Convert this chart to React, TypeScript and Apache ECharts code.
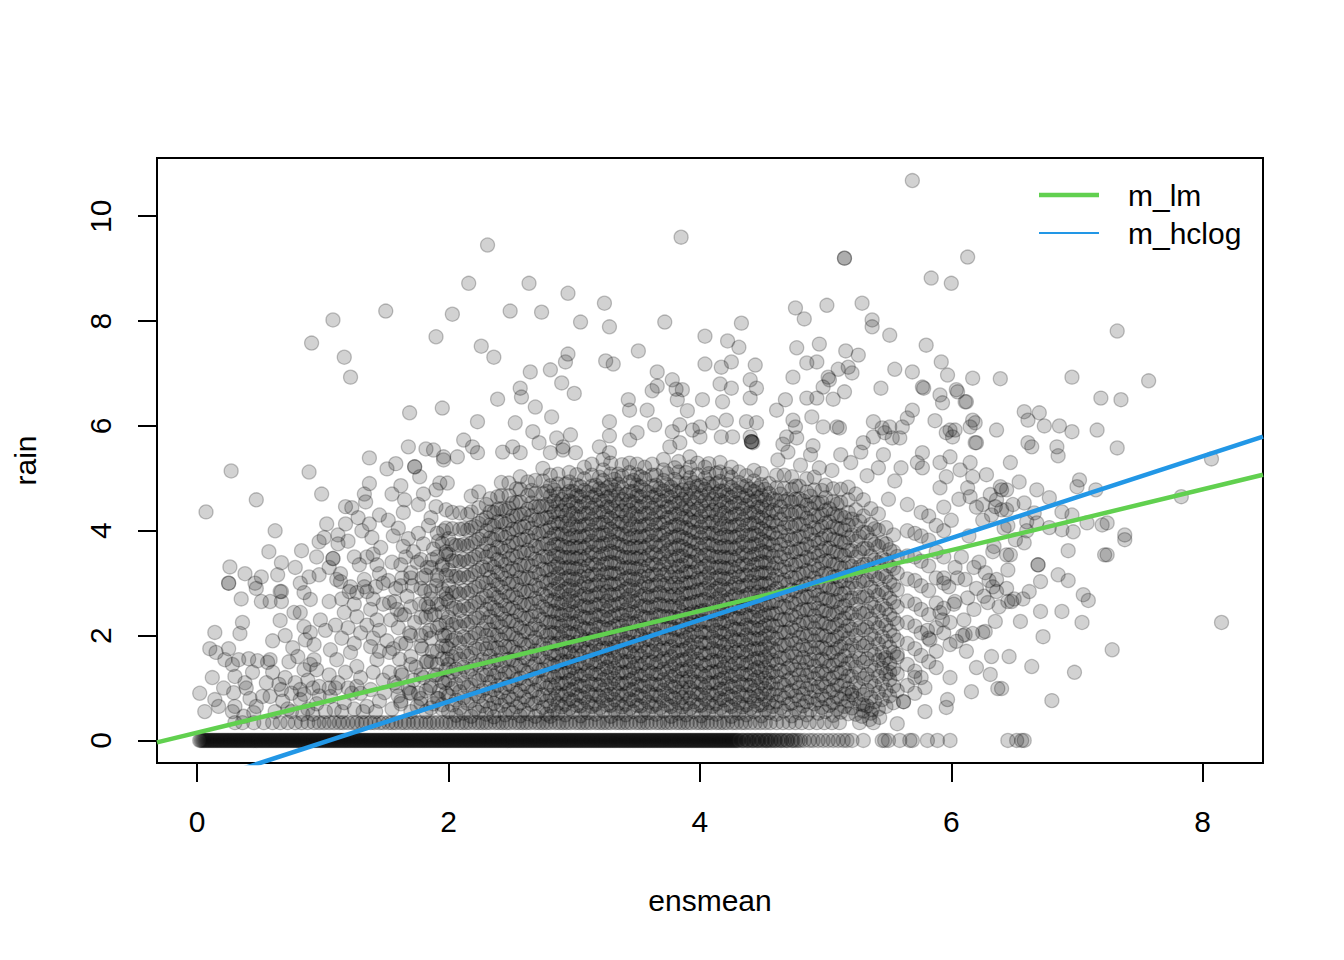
import React, { useEffect, useRef } from "react";
import * as echarts from "echarts";

// axis ranges (R default: data range widened by 4%)
const xRange = [-0.32, 8.48];
const yRange = [-0.43, 11.11];
const xTicks = [0, 2, 4, 6, 8];
const yTicks = [0, 2, 4, 6, 8, 10];

// fitted lines: [intercept, slope]
const lmCoef = [0.15, 0.58];
const hclogCoef = [-0.82, 0.78];

// ensmean of the days with rain == 0
const rainZeroX = [0.02,0.03,0.05,0.06,0.08,0.1,0.11,0.13,0.14,0.16,0.18,0.19,0.21,0.22,0.24,0.26,0.27,0.29,0.3,0.32,0.34,0.35,0.37,0.38,0.4,0.42,0.43,0.45,0.47,0.48,0.5,0.51,0.53,0.55,0.56,0.58,0.59,0.61,0.63,0.64,0.66,0.67,0.69,0.71,0.72,0.74,0.75,0.77,0.79,0.8,0.82,0.83,0.85,0.87,0.88,0.9,0.92,0.93,0.95,0.96,0.98,1.0,1.01,1.03,1.04,1.06,1.08,1.09,1.11,1.12,1.14,1.16,1.17,1.19,1.2,1.22,1.24,1.25,1.27,1.28,1.3,1.32,1.33,1.35,1.37,1.38,1.4,1.41,1.43,1.45,1.46,1.48,1.49,1.51,1.53,1.54,1.56,1.57,1.59,1.61,1.62,1.64,1.65,1.67,1.69,1.7,1.72,1.73,1.75,1.77,1.78,1.8,1.82,1.83,1.85,1.86,1.88,1.9,1.91,1.93,1.94,1.96,1.98,1.99,2.01,2.02,2.04,2.06,2.07,2.09,2.1,2.12,2.14,2.15,2.17,2.18,2.2,2.22,2.23,2.25,2.27,2.28,2.3,2.31,2.33,2.35,2.36,2.38,2.39,2.41,2.43,2.44,2.46,2.47,2.49,2.51,2.52,2.54,2.55,2.57,2.59,2.6,2.62,2.63,2.65,2.67,2.68,2.7,2.72,2.73,2.75,2.76,2.78,2.8,2.81,2.83,2.84,2.86,2.88,2.89,2.91,2.92,2.94,2.96,2.97,2.99,3.0,3.02,3.04,3.05,3.07,3.08,3.1,3.12,3.13,3.15,3.17,3.18,3.2,3.21,3.23,3.25,3.26,3.28,3.29,3.31,3.33,3.34,3.36,3.37,3.39,3.41,3.42,3.44,3.45,3.47,3.49,3.5,3.52,3.53,3.55,3.57,3.58,3.6,3.62,3.63,3.65,3.66,3.68,3.7,3.71,3.73,3.74,3.76,3.78,3.79,3.81,3.82,3.84,3.86,3.87,3.89,3.9,3.92,3.94,3.95,3.97,3.98,4.0,4.02,4.03,4.05,4.07,4.08,4.1,4.11,4.13,4.15,4.16,4.18,4.19,4.21,4.23,4.24,4.26,4.27,4.29,4.31,4.33,4.35,4.37,4.39,4.41,4.43,4.45,4.47,4.5,4.52,4.54,4.57,4.59,4.62,4.64,4.67,4.7,4.73,4.76,4.8,4.83,4.87,4.9,4.94,4.98,5.02,5.06,5.1,5.14,5.17,5.21,5.3,5.45,5.47,5.5,5.59,5.67,5.69,5.81,5.89,5.99,6.45,6.52,6.56,6.58];
const rainZeroXMore = [0.04,0.07,0.09,0.12,0.15,0.17,0.2,0.23,0.25,0.28,0.31,0.33,0.36,0.39,0.41,0.44,0.46,0.49,0.52,0.54,0.57,0.6,0.62,0.65,0.68,0.7,0.73,0.76,0.78,0.81,0.84,0.86,0.89,0.91,0.94,0.97,0.99,1.02,1.05,1.07,1.1,1.13,1.15,1.18,1.21,1.23,1.26,1.29,1.31,1.34,1.36,1.39,1.42,1.44,1.47,1.5,1.52,1.55,1.58,1.6,1.63,1.66,1.68,1.71,1.74,1.76,1.79,1.81,1.84,1.87,1.89,1.92,1.95,1.97,2.0,2.03,2.05,2.08,2.11,2.13,2.16,2.19,2.21,2.24,2.26,2.29,2.32,2.34,2.37,2.4,2.42,2.45,2.48,2.5,2.53,2.56,2.58,2.61,2.64,2.66,2.69,2.71,2.74,2.77,2.79,2.82,2.85,2.87,2.9,2.93,2.95,2.98,3.01,3.03,3.06,3.09,3.11,3.14,3.16,3.19,3.22,3.24,3.27,3.3,3.32,3.35,3.38,3.4,3.43,3.46,3.48,3.51,3.54,3.56,3.59,3.61,3.64,3.67,3.69,3.72,3.75,3.77,3.8,3.83,3.85,3.88,3.91,3.93,3.96,3.99,4.01,4.04,4.06,4.09,4.12,4.14,4.17,4.2,4.22,4.25,4.28,4.3,4.34,4.38,4.42,4.46,4.49,4.53,4.56,4.6,4.65,4.69,4.74,4.78];

// ensmean of the days on the lowest non-zero rain level
const rainLowLevel = 0.34;
const rainLowX = [0.3,0.36,0.45,0.53,0.6,0.66,0.72,0.78,0.83,0.88,0.93,0.97,1.01,1.05,1.09,1.13,1.16,1.2,1.24,1.27,1.31,1.34,1.38,1.41,1.45,1.48,1.52,1.55,1.58,1.62,1.65,1.68,1.72,1.75,1.78,1.82,1.85,1.88,1.91,1.95,1.98,2.01,2.04,2.08,2.11,2.14,2.17,2.21,2.24,2.27,2.3,2.33,2.37,2.4,2.43,2.46,2.49,2.53,2.56,2.59,2.62,2.65,2.69,2.72,2.75,2.78,2.81,2.85,2.88,2.91,2.94,2.97,3.01,3.04,3.07,3.1,3.13,3.17,3.2,3.23,3.26,3.29,3.33,3.36,3.39,3.42,3.45,3.49,3.52,3.55,3.58,3.61,3.65,3.68,3.71,3.74,3.77,3.81,3.84,3.87,3.9,3.93,3.97,4.0,4.03,4.06,4.09,4.13,4.16,4.19,4.22,4.26,4.29,4.33,4.36,4.4,4.44,4.48,4.52,4.56,4.61,4.66,4.71,4.76,4.81,4.87,4.93,4.99,5.05,5.11,5.27,5.38];

// dense cloud, read column by column: [ensmean, rain values]
const coreCols: [number, number[]][] = [
  [1.62,[0.75,1.3,1.85,2.4,2.95]],
  [1.7,[0.9,1.45,2.0,2.55,3.1]],
  [1.78,[0.7,1.25,1.8,2.35,2.9,3.45]],
  [1.82,[0.95,1.5,2.05,2.6,3.15]],
  [1.86,[0.62,1.05,1.5,1.95,2.4,2.85,3.3]],
  [1.91,[0.8,1.25,1.7,2.15,2.6,3.05,3.5,3.95]],
  [1.95,[0.68,1.12,1.56,2.0,2.44,2.88,3.32,3.76]],
  [1.98,[0.9,1.35,1.8,2.25,2.7,3.15,3.6,4.05]],
  [2.0,[0.55,0.85,1.15,1.45,1.75,2.05,2.35,2.65,2.95,3.25,3.55,3.85]],
  [2.03,[0.68,0.99,1.3,1.6,1.91,2.21,2.52,2.82,3.13,3.43,3.74,4.04,4.35]],
  [2.06,[0.48,0.77,1.07,1.36,1.66,1.95,2.25,2.54,2.84,3.13,3.43,3.72]],
  [2.09,[0.62,0.93,1.24,1.55,1.86,2.17,2.48,2.79,3.1,3.41,3.72,4.03,4.34]],
  [2.12,[0.52,0.81,1.1,1.4,1.69,1.98,2.28,2.57,2.86,3.16,3.45,3.74,4.04]],
  [2.15,[0.71,1.01,1.31,1.61,1.91,2.21,2.51,2.81,3.11,3.41,3.71,4.01,4.31]],
  [2.18,[0.46,0.76,1.06,1.36,1.66,1.96,2.26,2.56,2.86,3.16,3.46,3.76,4.06,4.36,4.66]],
  [2.21,[0.6,0.89,1.18,1.47,1.76,2.05,2.34,2.63,2.92,3.21,3.5,3.79,4.08]],
  [2.24,[0.54,0.84,1.14,1.44,1.74,2.04,2.34,2.64,2.94,3.24,3.54,3.84,4.14,4.44,4.74]],
  [2.27,[0.66,0.95,1.25,1.54,1.84,2.13,2.43,2.72,3.02,3.31,3.61,3.9,4.2]],
  [2.3,[0.5,0.75,1.0,1.25,1.5,1.75,2.0,2.25,2.5,2.75,3.0,3.25,3.5,3.75,4.0,4.25,4.5]],
  [2.33,[0.61,0.86,1.11,1.36,1.61,1.86,2.11,2.36,2.61,2.86,3.11,3.36,3.61,3.86,4.11,4.36,4.61]],
  [2.36,[0.45,0.71,0.97,1.23,1.49,1.75,2.01,2.27,2.53,2.79,3.05,3.31,3.57,3.83,4.09,4.35]],
  [2.39,[0.57,0.81,1.05,1.29,1.53,1.77,2.01,2.25,2.49,2.73,2.97,3.21,3.45,3.69,3.93,4.17,4.41,4.65]],
  [2.42,[0.67,0.92,1.17,1.42,1.67,1.92,2.17,2.42,2.67,2.92,3.17,3.42,3.67,3.92,4.17,4.42,4.67,4.92]],
  [2.45,[0.49,0.75,1.01,1.27,1.53,1.79,2.05,2.31,2.57,2.83,3.09,3.35,3.61,3.87,4.13,4.39]],
  [2.48,[0.59,0.83,1.07,1.31,1.55,1.79,2.03,2.27,2.51,2.75,2.99,3.23,3.47,3.71,3.95,4.19,4.43,4.67,4.91]],
  [2.51,[0.53,0.78,1.03,1.28,1.53,1.78,2.03,2.28,2.53,2.78,3.03,3.28,3.53,3.78,4.03,4.28,4.53]],
  [2.54,[0.64,0.9,1.16,1.42,1.68,1.94,2.2,2.46,2.72,2.98,3.24,3.5,3.76,4.02,4.28,4.54,4.8]],
  [2.57,[0.47,0.71,0.95,1.19,1.43,1.67,1.91,2.15,2.39,2.63,2.87,3.11,3.35,3.59,3.83,4.07,4.31,4.55,4.79,5.03]],
  [2.6,[0.58,0.83,1.08,1.33,1.58,1.83,2.08,2.33,2.58,2.83,3.08,3.33,3.58,3.83,4.08,4.33]],
  [2.63,[0.51,0.77,1.03,1.29,1.55,1.81,2.07,2.33,2.59,2.85,3.11,3.37,3.63,3.89,4.15,4.41,4.67,4.93]],
  [2.66,[0.69,0.93,1.17,1.41,1.65,1.89,2.13,2.37,2.61,2.85,3.09,3.33,3.57,3.81,4.05,4.29,4.53,4.77]],
  [2.69,[0.46,0.71,0.96,1.21,1.46,1.71,1.96,2.21,2.46,2.71,2.96,3.21,3.46,3.71,3.96,4.21,4.46,4.71,4.96]],
  [2.72,[0.56,0.82,1.08,1.34,1.6,1.86,2.12,2.38,2.64,2.9,3.16,3.42,3.68,3.94,4.2,4.46]],
  [2.75,[0.63,0.87,1.11,1.35,1.59,1.83,2.07,2.31,2.55,2.79,3.03,3.27,3.51,3.75,3.99,4.23,4.47,4.71,4.95,5.19]],
  [2.78,[0.5,0.75,1.0,1.25,1.5,1.75,2.0,2.25,2.5,2.75,3.0,3.25,3.5,3.75,4.0,4.25,4.5,4.75]],
  [2.81,[0.46,0.66,0.86,1.06,1.26,1.46,1.66,1.86,2.06,2.26,2.46,2.66,2.86,3.06,3.26,3.46,3.66,3.86,4.06,4.26,4.46,4.66,4.86,5.06]],
  [2.84,[0.58,0.79,1.0,1.21,1.42,1.63,1.84,2.05,2.26,2.47,2.68,2.89,3.1,3.31,3.52,3.73,3.94,4.15,4.36,4.57,4.78]],
  [2.87,[0.52,0.71,0.9,1.09,1.28,1.47,1.66,1.85,2.04,2.23,2.42,2.61,2.8,2.99,3.18,3.37,3.56,3.75,3.94,4.13,4.32,4.51,4.7,4.89,5.08]],
  [2.9,[0.64,0.86,1.08,1.3,1.52,1.74,1.96,2.18,2.4,2.62,2.84,3.06,3.28,3.5,3.72,3.94,4.16,4.38,4.6]],
  [2.93,[0.49,0.69,0.89,1.09,1.29,1.49,1.69,1.89,2.09,2.29,2.49,2.69,2.89,3.09,3.29,3.49,3.69,3.89,4.09,4.29,4.49,4.69,4.89]],
  [2.96,[0.61,0.79,0.97,1.15,1.33,1.51,1.69,1.87,2.05,2.23,2.41,2.59,2.77,2.95,3.13,3.31,3.49,3.67,3.85,4.03,4.21,4.39,4.57,4.75,4.93,5.11]],
  [2.99,[0.55,0.76,0.97,1.18,1.39,1.6,1.81,2.02,2.23,2.44,2.65,2.86,3.07,3.28,3.49,3.7,3.91,4.12,4.33,4.54,4.75]],
  [3.02,[0.67,0.87,1.07,1.27,1.47,1.67,1.87,2.07,2.27,2.47,2.67,2.87,3.07,3.27,3.47,3.67,3.87,4.07,4.27,4.47,4.67,4.87,5.07]],
  [3.05,[0.47,0.66,0.85,1.04,1.23,1.42,1.61,1.8,1.99,2.18,2.37,2.56,2.75,2.94,3.13,3.32,3.51,3.7,3.89,4.08,4.27,4.46,4.65,4.84]],
  [3.08,[0.59,0.81,1.03,1.25,1.47,1.69,1.91,2.13,2.35,2.57,2.79,3.01,3.23,3.45,3.67,3.89,4.11,4.33,4.55,4.77,4.99,5.21]],
  [3.11,[0.53,0.73,0.93,1.13,1.33,1.53,1.73,1.93,2.13,2.33,2.53,2.73,2.93,3.13,3.33,3.53,3.73,3.93,4.13,4.33,4.53,4.73]],
  [3.14,[0.65,0.86,1.07,1.28,1.49,1.7,1.91,2.12,2.33,2.54,2.75,2.96,3.17,3.38,3.59,3.8,4.01,4.22,4.43,4.64,4.85,5.06,5.27]],
  [3.17,[0.5,0.69,0.88,1.07,1.26,1.45,1.64,1.83,2.02,2.21,2.4,2.59,2.78,2.97,3.16,3.35,3.54,3.73,3.92,4.11,4.3,4.49,4.68,4.87]],
  [3.2,[0.62,0.84,1.06,1.28,1.5,1.72,1.94,2.16,2.38,2.6,2.82,3.04,3.26,3.48,3.7,3.92,4.14,4.36,4.58,4.8,5.02]],
  [3.23,[0.56,0.76,0.96,1.16,1.36,1.56,1.76,1.96,2.16,2.36,2.56,2.76,2.96,3.16,3.36,3.56,3.76,3.96,4.16,4.36,4.56,4.76,4.96,5.16,5.36]],
  [3.26,[0.68,0.86,1.04,1.22,1.4,1.58,1.76,1.94,2.12,2.3,2.48,2.66,2.84,3.02,3.2,3.38,3.56,3.74,3.92,4.1,4.28,4.46,4.64,4.82]],
  [3.29,[0.46,0.67,0.88,1.09,1.3,1.51,1.72,1.93,2.14,2.35,2.56,2.77,2.98,3.19,3.4,3.61,3.82,4.03,4.24,4.45,4.66,4.87,5.08,5.29]],
  [3.32,[0.58,0.78,0.98,1.18,1.38,1.58,1.78,1.98,2.18,2.38,2.58,2.78,2.98,3.18,3.38,3.58,3.78,3.98,4.18,4.38,4.58,4.78,4.98]],
  [3.35,[0.52,0.71,0.9,1.09,1.28,1.47,1.66,1.85,2.04,2.23,2.42,2.61,2.8,2.99,3.18,3.37,3.56,3.75,3.94,4.13,4.32,4.51,4.7,4.89,5.08]],
  [3.38,[0.64,0.86,1.08,1.3,1.52,1.74,1.96,2.18,2.4,2.62,2.84,3.06,3.28,3.5,3.72,3.94,4.16,4.38,4.6,4.82,5.04,5.26]],
  [3.41,[0.49,0.69,0.89,1.09,1.29,1.49,1.69,1.89,2.09,2.29,2.49,2.69,2.89,3.09,3.29,3.49,3.69,3.89,4.09,4.29,4.49,4.69]],
  [3.44,[0.61,0.79,0.97,1.15,1.33,1.51,1.69,1.87,2.05,2.23,2.41,2.59,2.77,2.95,3.13,3.31,3.49,3.67,3.85,4.03,4.21,4.39,4.57,4.75,4.93,5.11,5.29]],
  [3.47,[0.55,0.76,0.97,1.18,1.39,1.6,1.81,2.02,2.23,2.44,2.65,2.86,3.07,3.28,3.49,3.7,3.91,4.12,4.33,4.54,4.75,4.96]],
  [3.5,[0.67,0.87,1.07,1.27,1.47,1.67,1.87,2.07,2.27,2.47,2.67,2.87,3.07,3.27,3.47,3.67,3.87,4.07,4.27,4.47,4.67,4.87,5.07,5.27]],
  [3.53,[0.47,0.66,0.85,1.04,1.23,1.42,1.61,1.8,1.99,2.18,2.37,2.56,2.75,2.94,3.13,3.32,3.51,3.7,3.89,4.08,4.27,4.46,4.65,4.84,5.03]],
  [3.56,[0.59,0.81,1.03,1.25,1.47,1.69,1.91,2.13,2.35,2.57,2.79,3.01,3.23,3.45,3.67,3.89,4.11,4.33,4.55,4.77,4.99,5.21]],
  [3.59,[0.53,0.73,0.93,1.13,1.33,1.53,1.73,1.93,2.13,2.33,2.53,2.73,2.93,3.13,3.33,3.53,3.73,3.93,4.13,4.33,4.53,4.73]],
  [3.62,[0.65,0.86,1.07,1.28,1.49,1.7,1.91,2.12,2.33,2.54,2.75,2.96,3.17,3.38,3.59,3.8,4.01,4.22,4.43,4.64,4.85,5.06,5.27]],
  [3.65,[0.5,0.69,0.88,1.07,1.26,1.45,1.64,1.83,2.02,2.21,2.4,2.59,2.78,2.97,3.16,3.35,3.54,3.73,3.92,4.11,4.3,4.49,4.68,4.87,5.06]],
  [3.68,[0.62,0.84,1.06,1.28,1.5,1.72,1.94,2.16,2.38,2.6,2.82,3.04,3.26,3.48,3.7,3.92,4.14,4.36,4.58,4.8]],
  [3.71,[0.56,0.76,0.96,1.16,1.36,1.56,1.76,1.96,2.16,2.36,2.56,2.76,2.96,3.16,3.36,3.56,3.76,3.96,4.16,4.36,4.56,4.76,4.96,5.16,5.36]],
  [3.74,[0.68,0.89,1.1,1.31,1.52,1.73,1.94,2.15,2.36,2.57,2.78,2.99,3.2,3.41,3.62,3.83,4.04,4.25,4.46,4.67,4.88,5.09]],
  [3.77,[0.46,0.65,0.84,1.03,1.22,1.41,1.6,1.79,1.98,2.17,2.36,2.55,2.74,2.93,3.12,3.31,3.5,3.69,3.88,4.07,4.26,4.45,4.64,4.83]],
  [3.8,[0.58,0.8,1.02,1.24,1.46,1.68,1.9,2.12,2.34,2.56,2.78,3.0,3.22,3.44,3.66,3.88,4.1,4.32,4.54,4.76,4.98,5.2]],
  [3.83,[0.52,0.72,0.92,1.12,1.32,1.52,1.72,1.92,2.12,2.32,2.52,2.72,2.92,3.12,3.32,3.52,3.72,3.92,4.12,4.32,4.52,4.72,4.92,5.12,5.32]],
  [3.86,[0.64,0.82,1.0,1.18,1.36,1.54,1.72,1.9,2.08,2.26,2.44,2.62,2.8,2.98,3.16,3.34,3.52,3.7,3.88,4.06,4.24,4.42,4.6,4.78]],
  [3.89,[0.49,0.7,0.91,1.12,1.33,1.54,1.75,1.96,2.17,2.38,2.59,2.8,3.01,3.22,3.43,3.64,3.85,4.06,4.27,4.48,4.69,4.9,5.11]],
  [3.92,[0.61,0.81,1.01,1.21,1.41,1.61,1.81,2.01,2.21,2.41,2.61,2.81,3.01,3.21,3.41,3.61,3.81,4.01,4.21,4.41,4.61,4.81,5.01,5.21,5.41]],
  [3.95,[0.55,0.74,0.93,1.12,1.31,1.5,1.69,1.88,2.07,2.26,2.45,2.64,2.83,3.02,3.21,3.4,3.59,3.78,3.97,4.16,4.35,4.54,4.73,4.92]],
  [3.98,[0.67,0.89,1.11,1.33,1.55,1.77,1.99,2.21,2.43,2.65,2.87,3.09,3.31,3.53,3.75,3.97,4.19,4.41,4.63,4.85,5.07,5.29]],
  [4.01,[0.47,0.67,0.87,1.07,1.27,1.47,1.67,1.87,2.07,2.27,2.47,2.67,2.87,3.07,3.27,3.47,3.67,3.87,4.07,4.27,4.47,4.67,4.87]],
  [4.04,[0.59,0.8,1.01,1.22,1.43,1.64,1.85,2.06,2.27,2.48,2.69,2.9,3.11,3.32,3.53,3.74,3.95,4.16,4.37,4.58,4.79,5.0,5.21]],
  [4.07,[0.53,0.72,0.91,1.1,1.29,1.48,1.67,1.86,2.05,2.24,2.43,2.62,2.81,3.0,3.19,3.38,3.57,3.76,3.95,4.14,4.33,4.52,4.71,4.9,5.09,5.28]],
  [4.1,[0.65,0.87,1.09,1.31,1.53,1.75,1.97,2.19,2.41,2.63,2.85,3.07,3.29,3.51,3.73,3.95,4.17,4.39,4.61,4.83]],
  [4.13,[0.5,0.7,0.9,1.1,1.3,1.5,1.7,1.9,2.1,2.3,2.5,2.7,2.9,3.1,3.3,3.5,3.7,3.9,4.1,4.3,4.5,4.7,4.9,5.1]],
  [4.16,[0.62,0.8,0.98,1.16,1.34,1.52,1.7,1.88,2.06,2.24,2.42,2.6,2.78,2.96,3.14,3.32,3.5,3.68,3.86,4.04,4.22,4.4,4.58,4.76,4.94,5.12,5.3]],
  [4.19,[0.56,0.77,0.98,1.19,1.4,1.61,1.82,2.03,2.24,2.45,2.66,2.87,3.08,3.29,3.5,3.71,3.92,4.13,4.34,4.55,4.76]],
  [4.22,[0.68,0.88,1.08,1.28,1.48,1.68,1.88,2.08,2.28,2.48,2.68,2.88,3.08,3.28,3.48,3.68,3.88,4.08,4.28,4.48,4.68,4.88,5.08]],
  [4.25,[0.46,0.65,0.84,1.03,1.22,1.41,1.6,1.79,1.98,2.17,2.36,2.55,2.74,2.93,3.12,3.31,3.5,3.69,3.88,4.07,4.26,4.45,4.64,4.83,5.02,5.21]],
  [4.28,[0.58,0.8,1.02,1.24,1.46,1.68,1.9,2.12,2.34,2.56,2.78,3.0,3.22,3.44,3.66,3.88,4.1,4.32,4.54,4.76]],
  [4.31,[0.52,0.72,0.92,1.12,1.32,1.52,1.72,1.92,2.12,2.32,2.52,2.72,2.92,3.12,3.32,3.52,3.72,3.92,4.12,4.32,4.52,4.72,4.92,5.12]],
  [4.34,[0.64,0.85,1.06,1.27,1.48,1.69,1.9,2.11,2.32,2.53,2.74,2.95,3.16,3.37,3.58,3.79,4.0,4.21,4.42,4.63,4.84]],
  [4.37,[0.49,0.68,0.87,1.06,1.25,1.44,1.63,1.82,2.01,2.2,2.39,2.58,2.77,2.96,3.15,3.34,3.53,3.72,3.91,4.1,4.29,4.48,4.67,4.86,5.05]],
  [4.4,[0.61,0.83,1.05,1.27,1.49,1.71,1.93,2.15,2.37,2.59,2.81,3.03,3.25,3.47,3.69,3.91,4.13,4.35,4.57,4.79]],
  [4.43,[0.55,0.75,0.95,1.15,1.35,1.55,1.75,1.95,2.15,2.35,2.55,2.75,2.95,3.15,3.35,3.55,3.75,3.95,4.15,4.35,4.55,4.75,4.95,5.15]],
  [4.46,[0.67,0.85,1.03,1.21,1.39,1.57,1.75,1.93,2.11,2.29,2.47,2.65,2.83,3.01,3.19,3.37,3.55,3.73,3.91,4.09,4.27,4.45,4.63,4.81]],
  [4.49,[0.47,0.68,0.89,1.1,1.31,1.52,1.73,1.94,2.15,2.36,2.57,2.78,2.99,3.2,3.41,3.62,3.83,4.04,4.25,4.46,4.67,4.88,5.09]],
  [4.52,[0.59,0.79,0.99,1.19,1.39,1.59,1.79,1.99,2.19,2.39,2.59,2.79,2.99,3.19,3.39,3.59,3.79,3.99,4.19,4.39,4.59,4.79]],
  [4.55,[0.53,0.72,0.91,1.1,1.29,1.48,1.67,1.86,2.05,2.24,2.43,2.62,2.81,3.0,3.19,3.38,3.57,3.76,3.95,4.14,4.33,4.52,4.71,4.9]],
  [4.58,[0.65,0.87,1.09,1.31,1.53,1.75,1.97,2.19,2.41,2.63,2.85,3.07,3.29,3.51,3.73,3.95,4.17,4.39,4.61]],
  [4.61,[0.5,0.74,0.98,1.22,1.46,1.7,1.94,2.18,2.42,2.66,2.9,3.14,3.38,3.62,3.86,4.1,4.34,4.58,4.82,5.06]],
  [4.64,[0.62,0.86,1.1,1.34,1.58,1.82,2.06,2.3,2.54,2.78,3.02,3.26,3.5,3.74,3.98,4.22,4.46,4.7]],
  [4.67,[0.56,0.81,1.06,1.31,1.56,1.81,2.06,2.31,2.56,2.81,3.06,3.31,3.56,3.81,4.06,4.31,4.56,4.81,5.06]],
  [4.7,[0.69,0.92,1.15,1.38,1.61,1.84,2.07,2.3,2.53,2.76,2.99,3.22,3.45,3.68,3.91,4.14,4.37,4.6]],
  [4.73,[0.47,0.71,0.95,1.19,1.43,1.67,1.91,2.15,2.39,2.63,2.87,3.11,3.35,3.59,3.83,4.07,4.31,4.55,4.79,5.03]],
  [4.76,[0.6,0.85,1.1,1.35,1.6,1.85,2.1,2.35,2.6,2.85,3.1,3.35,3.6,3.85,4.1,4.35,4.6,4.85]],
  [4.79,[0.53,0.77,1.01,1.25,1.49,1.73,1.97,2.21,2.45,2.69,2.93,3.17,3.41,3.65,3.89,4.13,4.37,4.61,4.85]],
  [4.82,[0.66,0.89,1.12,1.35,1.58,1.81,2.04,2.27,2.5,2.73,2.96,3.19,3.42,3.65,3.88,4.11,4.34,4.57]],
  [4.85,[0.49,0.74,0.99,1.24,1.49,1.74,1.99,2.24,2.49,2.74,2.99,3.24,3.49,3.74,3.99,4.24,4.49,4.74,4.99]],
  [4.88,[0.58,0.82,1.06,1.3,1.54,1.78,2.02,2.26,2.5,2.74,2.98,3.22,3.46,3.7,3.94,4.18,4.42,4.66]],
  [4.91,[0.7,0.94,1.18,1.42,1.66,1.9,2.14,2.38,2.62,2.86,3.1,3.34,3.58,3.82,4.06,4.3,4.54,4.78,5.02]],
  [4.94,[0.52,0.77,1.02,1.27,1.52,1.77,2.02,2.27,2.52,2.77,3.02,3.27,3.52,3.77,4.02,4.27,4.52]],
  [4.97,[0.63,0.86,1.09,1.32,1.55,1.78,2.01,2.24,2.47,2.7,2.93,3.16,3.39,3.62,3.85,4.08,4.31,4.54,4.77]],
  [5.0,[0.55,0.79,1.03,1.27,1.51,1.75,1.99,2.23,2.47,2.71,2.95,3.19,3.43,3.67,3.91,4.15,4.39,4.63,4.87]],
  [5.03,[0.67,0.92,1.17,1.42,1.67,1.92,2.17,2.42,2.67,2.92,3.17,3.42,3.67,3.92,4.17,4.42]],
  [5.06,[0.48,0.72,0.96,1.2,1.44,1.68,1.92,2.16,2.4,2.64,2.88,3.12,3.36,3.6,3.84,4.08,4.32,4.56,4.8]],
  [5.09,[0.6,0.83,1.06,1.29,1.52,1.75,1.98,2.21,2.44,2.67,2.9,3.13,3.36,3.59,3.82,4.05,4.28,4.51]],
  [5.12,[0.54,0.79,1.04,1.29,1.54,1.79,2.04,2.29,2.54,2.79,3.04,3.29,3.54,3.79,4.04,4.29,4.54,4.79]],
  [5.15,[0.65,0.89,1.13,1.37,1.61,1.85,2.09,2.33,2.57,2.81,3.05,3.29,3.53,3.77,4.01,4.25]],
  [5.18,[0.51,0.75,0.99,1.23,1.47,1.71,1.95,2.19,2.43,2.67,2.91,3.15,3.39,3.63,3.87,4.11,4.35,4.59,4.83]],
  [5.21,[0.62,0.92,1.22,1.52,1.82,2.12,2.42,2.72,3.02,3.32,3.62,3.92,4.22]],
  [5.24,[0.5,0.8,1.1,1.4,1.7,2.0,2.3,2.6,2.9,3.2,3.5,3.8,4.1,4.4,4.7]],
  [5.27,[0.7,0.99,1.28,1.57,1.86,2.15,2.44,2.73,3.02,3.31,3.6,3.89,4.18]],
  [5.3,[0.56,0.87,1.18,1.49,1.8,2.11,2.42,2.73,3.04,3.35,3.66,3.97,4.28,4.59]],
  [5.33,[0.66,0.96,1.26,1.56,1.86,2.16,2.46,2.76,3.06,3.36,3.66,3.96]],
  [5.36,[0.52,0.82,1.12,1.42,1.72,2.02,2.32,2.62,2.92,3.22,3.52,3.82,4.12,4.42]],
  [5.39,[0.74,1.04,1.34,1.64,1.94,2.24,2.54,2.84,3.14,3.44,3.74,4.04]],
  [5.42,[0.6,0.91,1.22,1.53,1.84,2.15,2.46,2.77,3.08,3.39,3.7,4.01,4.32]],
  [5.45,[0.78,1.08,1.38,1.68,1.98,2.28,2.58,2.88,3.18,3.48,3.78]],
  [5.48,[0.65,0.96,1.27,1.58,1.89,2.2,2.51,2.82,3.13,3.44,3.75,4.06]],
  [5.51,[0.85,1.16,1.47,1.78,2.09,2.4,2.71,3.02,3.33,3.64]],
  [5.54,[0.72,1.04,1.36,1.68,2.0,2.32,2.64,2.96,3.28,3.6,3.92]],
  [5.57,[0.95,1.27,1.59,1.91,2.23,2.55,2.87,3.19,3.51]],
  [5.65,[1.05,1.45,1.85,2.25,2.66,3.08,3.52,4.0,4.5]],
  [5.71,[0.9,1.32,1.75,2.18,2.6,3.05,3.5,3.95]],
  [5.76,[1.2,1.62,2.05,2.5,2.95,3.42,3.9,4.35]],
  [5.82,[1.5,1.95,2.4,2.86,3.33,3.82,4.28]],
  [5.88,[1.7,2.15,2.62,3.1,3.6,4.1]],
  [5.94,[2.05,2.52,3.0,3.5,4.0,4.45]],
];

// individual points, left of ensmean 1
const ptsLeft: [number, number][] = [
  [0.07,4.36],[0.27,5.14],[0.47,4.59],[0.26,3.31],[0.25,3.0],[0.25,3.0],[0.38,3.18],[0.46,3.0],[0.47,2.9],[0.36,2.25],[0.34,2.04],[0.14,2.06],[0.1,1.75],[0.15,1.68],[0.25,1.75],[0.22,1.54],[0.28,1.45],[0.33,1.54],[0.41,1.56],[0.48,1.52],[0.02,0.9],[0.06,0.55],[0.14,0.78],[0.17,0.65],[0.21,1.0],[0.29,0.91],[0.3,0.65],[0.28,0.55],[0.38,1.1],[0.39,1.0],[0.37,0.46],[0.47,0.65],[0.45,0.53],[0.3,1.22],[0.42,0.8],[0.44,1.3],[0.35,2.7],[0.12,1.2],
  [0.51,3.12],[0.57,3.6],[0.62,4.0],[0.64,3.16],[0.66,2.84],[0.51,2.65],[0.58,2.65],[0.67,2.65],[0.67,2.84],[0.66,2.29],[0.56,1.49],[0.58,1.54],[0.52,0.84],[0.58,0.84],[0.65,1.07],[0.67,0.97],[0.76,1.77],[0.8,1.6],[0.85,1.35],[0.9,1.45],[0.93,1.54],[0.95,1.35],[0.77,2.44],[0.82,2.44],[0.85,2.17],[0.9,2.06],[0.86,1.92],[0.93,1.83],[0.82,3.0],[0.89,3.12],[0.97,3.16],[0.85,2.82],[0.9,2.69],[0.82,0.97],[0.97,1.03],[0.85,0.88],[0.82,0.78],[0.83,3.62],[0.89,5.12],[0.99,4.7],[0.91,7.58],[0.97,3.79],[0.6,1.9],[0.7,1.2],[0.72,0.6],[0.62,0.55],[0.75,0.9],[0.88,0.6],[0.95,0.7],[0.92,1.0],[0.98,2.3],[0.7,2.0],[0.78,3.3],[0.95,3.5],[0.73,1.5],[0.6,1.3],[0.68,0.75],[0.92,0.5],[0.55,1.1],[0.67,3.39],[0.78,1.1],[0.88,1.15],[0.97,0.85],[0.75,0.55],[0.84,0.5],
];

// individual points, ensmean 1 to 2
const ptsMidLeft: [number, number][] = [
  [1.08,8.02],[1.17,7.31],[1.22,6.93],[1.18,4.46],[1.37,5.39],[1.03,4.13],[1.18,4.13],[1.37,4.13],[1.31,4.0],[1.39,3.87],[1.12,3.92],[1.12,3.75],[1.01,3.87],[1.08,3.47],[1.08,3.47],[1.46,3.68],[1.14,3.18],[1.14,3.03],[1.21,2.84],[1.25,3.5],[1.29,3.35],[1.35,3.5],[1.43,3.35],[1.45,3.18],[1.33,2.93],[1.35,2.84],[1.42,2.93],[1.37,4.9],[1.33,4.7],[1.34,4.55],[1.05,2.65],[1.11,3.07],[1.22,2.93],[1.33,3.07],[1.27,2.82],[1.17,2.44],[1.27,2.36],[1.38,2.5],[1.43,2.3],[1.06,1.73],[1.11,1.54],[1.22,1.68],[1.27,1.41],[1.38,1.79],[1.43,1.54],[1.27,1.03],[1.38,0.97],[1.49,0.91],[1.06,0.84],[1.17,0.72],[1.09,0.59],[1.23,4.44],[1.02,2.1],[1.1,2.2],[1.15,1.95],[1.2,2.15],[1.25,1.85],[1.3,2.05],[1.35,2.2],[1.4,1.95],[1.45,2.1],[1.48,2.6],[1.05,1.25],[1.12,1.1],[1.18,1.3],[1.23,0.9],[1.3,1.2],[1.35,0.65],[1.4,1.3],[1.45,0.75],[1.48,1.15],[1.02,0.55],[1.15,0.55],[1.25,0.6],[1.32,0.55],[1.42,0.55],[1.2,1.0],[1.1,1.0],[1.05,1.0],[1.3,0.9],[1.45,1.7],[1.15,2.7],[1.25,2.6],[1.4,2.7],[1.48,3.0],[1.2,3.8],[1.28,4.25],[1.45,4.3],[1.05,3.3],[1.4,3.55],
  [1.5,8.19],[1.9,7.7],[1.69,6.25],[1.95,6.34],[1.68,5.6],[1.82,5.56],[1.88,5.54],[1.58,5.28],[1.51,5.18],[1.73,5.22],[1.73,5.22],[1.77,5.03],[1.96,5.35],[1.62,4.86],[1.65,4.59],[1.9,4.78],[1.93,4.91],[1.99,4.91],[1.9,4.46],[1.53,2.63],[1.59,2.5],[1.53,1.68],[1.59,1.03],[1.69,0.91],
  [1.52,4.2],[1.56,3.9],[1.6,4.05],[1.64,3.7],[1.68,3.85],[1.72,3.6],[1.76,3.95],[1.8,3.75],[1.84,4.1],[1.88,3.65],[1.92,3.8],[1.96,4.0],[1.98,3.55],[1.55,3.4],[1.62,3.35],[1.66,3.5],[1.7,3.2],[1.75,3.4],[1.79,3.1],[1.83,3.3],[1.87,3.45],[1.91,3.15],[1.95,3.35],[1.52,3.05],[1.58,2.9],[1.63,3.1],[1.67,2.75],[1.71,2.95],[1.77,2.6],[1.81,2.85],[1.86,2.7],[1.9,2.95],[1.94,2.6],[1.98,2.8],[1.54,2.3],[1.6,2.15],[1.65,2.4],[1.69,2.05],[1.73,2.25],[1.78,2.0],[1.82,2.35],[1.85,2.1],[1.89,2.4],[1.93,2.2],[1.97,2.0],[1.51,1.9],[1.56,1.75],[1.61,1.55],[1.66,1.85],[1.7,1.6],[1.74,1.4],[1.79,1.75],[1.83,1.5],[1.87,1.7],[1.91,1.45],[1.95,1.8],[1.99,1.55],[1.53,1.3],[1.57,1.1],[1.63,1.25],[1.68,1.0],[1.72,1.15],[1.76,0.9],[1.8,1.2],[1.85,1.0],[1.89,1.25],[1.93,0.95],[1.97,1.1],[1.55,0.6],[1.62,0.7],[1.7,0.55],[1.75,0.65],[1.82,0.55],[1.88,0.7],[1.95,0.6],[1.6,0.85],[1.78,0.8],[1.92,0.8],[1.64,4.35],[1.76,4.5],[1.86,4.25],[1.55,4.7],[1.8,4.7],[1.98,4.4],[1.57,2.65],[1.84,2.55],
];

// individual points above the dense cloud, ensmean 2 to 6.2
const ptsUpper: [number, number][] = [
  [2.31,9.45],[2.16,8.72],[2.64,8.72],[2.95,8.53],[3.24,8.34],[3.85,9.6],[2.03,8.13],[2.49,8.19],[2.74,8.17],[3.05,7.98],[3.28,7.89],[3.72,7.98],[2.26,7.52],[2.36,7.31],[2.65,7.03],[2.81,7.07],[2.95,7.37],[2.93,7.22],[2.9,6.82],[3.0,6.62],[3.25,7.24],[3.31,7.18],[3.51,7.43],[3.66,7.03],[3.62,6.67],[3.66,6.76],[3.78,6.88],[3.81,6.7],[3.86,6.69],[3.82,6.5],[3.9,6.29],[4.04,7.71],[4.04,7.18],[4.02,6.5],[2.23,6.08],[2.39,6.51],[2.57,6.72],[2.58,6.55],[2.69,6.36],[2.82,6.17],[2.53,6.06],[2.67,5.89],[2.72,5.68],[2.12,5.73],[2.19,5.6],[2.23,5.49],[2.86,5.77],[2.91,5.6],[2.97,5.83],[3.28,6.08],[3.28,5.81],[3.43,6.5],[3.44,6.3],[3.58,6.3],[3.5,5.87],[3.44,5.73],[3.64,6.02],[3.78,5.89],[3.84,6.02],[3.76,5.6],[3.84,5.68],[3.94,5.92],[4.0,5.79],[1.96,5.41],[2.43,5.5],[2.51,5.6],[2.57,5.49],[2.81,5.49],[2.91,5.54],[3.01,5.49],[3.2,5.6],[3.28,5.49],[2.07,5.41],
  [5.69,10.68],[5.15,9.2],[5.15,9.2],[6.13,9.22],[5.84,8.82],[6.0,8.72],[4.76,8.25],[4.83,8.04],[5.01,8.3],[5.29,8.34],[5.37,8.02],[5.37,7.89],[5.51,7.73],[5.8,7.54],[4.33,7.96],[4.22,7.62],[4.31,7.5],[4.17,7.12],[4.25,7.22],[4.44,7.16],[4.16,6.8],[4.25,6.72],[4.4,6.88],[4.45,6.72],[4.18,6.46],[4.4,6.53],[4.77,7.49],[4.95,7.56],[4.85,7.2],[4.93,7.22],[4.74,6.93],[5.02,6.93],[5.1,7.08],[5.18,7.12],[5.21,7.01],[5.16,7.43],[5.26,7.35],[4.98,6.74],[5.03,6.88],[4.85,6.53],[4.93,6.53],[5.06,6.51],[5.15,6.65],[5.55,7.08],[5.69,7.03],[5.78,6.72],[5.44,6.72],[5.92,7.22],[5.97,6.97],[6.04,6.69],[6.12,6.46],[6.17,6.91],[5.91,6.59],[5.93,6.44],[5.69,6.3],[5.65,6.15],[5.61,5.98],[5.87,6.1],[6.17,6.11],[6.15,5.98],[5.96,5.87],[6.01,5.79],[6.19,5.68],[5.77,5.49],[5.38,6.08],[5.45,5.96],[5.51,5.98],[5.59,5.77],[4.68,6.5],[4.61,6.3],[4.74,6.11],[4.76,5.98],[4.69,5.79],[4.77,5.77],[4.37,6.08],[4.45,6.06],[4.4,5.79],[4.42,5.68],[4.89,6.17],[4.98,5.98],[5.09,5.98],[5.11,5.96],[5.3,5.68],[5.38,5.79],[5.47,5.87],[5.53,5.77],[4.0,5.98],[4.1,6.06],[4.21,6.11],[4.17,5.79],[4.26,5.79],[4.41,5.7],[4.41,5.7],[4.41,5.7],
  [5.05,5.15],[5.2,5.3],[5.33,5.05],[5.42,5.2],[5.12,5.45],[5.28,5.5],[5.5,4.6],[5.55,4.95],[5.6,5.2],[5.46,5.45],[4.62,5.35],[4.7,5.5],[4.8,5.25],[4.88,5.45],[4.95,5.2],[4.66,5.65],[4.9,5.62],
];

// individual points on the right, ensmean above 5.2
const ptsRight: [number, number][] = [
  [6.39,6.9],[6.96,6.93],[5.77,6.74],[6.05,6.65],[6.11,6.46],[5.99,5.92],[6.03,5.92],[6.19,6.06],[6.2,5.68],[6.36,5.92],[6.58,6.27],[6.61,6.11],[6.7,6.25],[6.74,6.0],[6.86,6.0],[6.96,5.89],[6.61,5.68],[6.64,5.6],[6.84,5.6],[6.85,5.43],[6.47,5.3],[7.02,4.97],[6.54,4.93],[6.68,4.78],[6.78,4.63],[6.88,4.36],[6.96,4.3],[5.91,5.3],[5.99,5.41],[6.07,5.16],[6.15,5.3],[6.17,5.03],[6.28,5.07],[5.73,5.3],[5.77,5.2],[5.96,5.03],[5.91,4.82],[6.13,4.82],[6.15,4.65],[6.31,4.69],[6.39,4.84],[6.44,4.78],[6.35,4.46],[6.49,4.5],[6.44,4.4],[6.58,4.53],[6.66,4.34],[6.6,4.17],[6.68,4.15],[6.78,4.06],[6.88,4.02],[6.97,3.98],[7.0,4.84],
  [7.32,7.81],[7.57,6.86],[7.19,6.53],[7.35,6.5],[7.16,5.92],[7.32,5.58],[8.07,5.37],[7.83,4.65],[7.15,4.78],[7.38,3.92],[6.93,3.62],[7.22,3.54],[7.24,3.54],[7.08,4.15],[7.2,4.11],[7.24,4.15],[6.36,4.59],[6.4,4.78],[6.32,4.3],[6.4,4.4],[6.45,4.1],[6.6,4.0],[6.2,4.45],[6.25,4.5],
  [6.69,3.35],[6.69,3.35],[6.85,3.16],[6.93,3.05],[7.05,2.78],[7.09,2.67],[6.71,3.03],[6.62,2.84],[6.48,2.65],[6.45,2.65],[6.57,2.7],[6.71,2.46],[6.88,2.46],[7.04,2.25],[8.15,2.25],[6.73,1.98],[7.28,1.73],[6.55,2.27],[6.35,2.27],[6.25,2.06],[6.17,2.04],[6.09,2.0],[6.32,1.6],[6.46,1.6],[6.64,1.41],[6.98,1.3],[6.2,1.39],[6.31,1.26],[5.88,1.39],[5.99,1.2],[5.71,1.2],[5.79,1.01],[6.16,0.93],[6.37,0.99],[6.4,0.99],[6.8,0.76],[5.97,0.78],[5.96,0.63],[5.79,0.55],[5.62,0.74],[5.62,0.74],[5.57,0.32],[5.35,0.4],[5.29,0.46],[5.43,0.44],[5.21,0.87],[5.3,0.68],[5.37,0.59],[5.46,1.54],[5.57,1.64],[5.51,1.3],[5.83,1.92],[5.99,1.83],[6.04,1.89],[6.11,2.02],[6.27,2.08],[5.93,2.3],[5.99,2.25],[5.91,2.44],[5.81,2.1],[6.29,2.63],[6.36,2.84],[6.44,2.9],[6.5,2.7],[6.27,3.2],[6.36,3.07],[6.33,2.93],[6.18,3.3],[6.11,3.07],[6.13,2.72],[6.03,2.65],[6.33,3.6],[6.44,3.54],[6.47,3.54],[6.58,3.77],[6.51,3.83],[7.38,3.83],[6.03,3.3],[5.94,3.1],[5.98,2.93],
  [6.02,2.6],[6.05,3.1],[6.08,3.5],[6.1,2.3],[6.14,3.9],[6.2,2.9],[6.22,3.4],[6.25,4.2],[6.3,3.05],[6.34,3.7],[6.38,2.55],[6.42,4.05],[6.0,4.2],[6.06,4.6],[6.12,1.7],[6.18,2.5],[6.26,2.75],[6.45,3.25],
];

const legendItems = [
  { name: "m_lm", color: "#61D04F", width: 4.5 },
  { name: "m_hclog", color: "#2297E6", width: 2 },
];

const FONT = "'Liberation Sans', Arial, Helvetica, sans-serif";

export default function App() {
  const ref = useRef<HTMLDivElement>(null);
  useEffect(() => {
    if (!ref.current) return;
    const chart = echarts.init(ref.current, null, { renderer: "svg" });
    const points: number[][] = [
      ...rainZeroX.map((x) => [x, 0]),
      ...rainZeroXMore.map((x) => [x, 0]),
      ...rainLowX.map((x) => [x, rainLowLevel]),
      ...coreCols.flatMap(([x, ys]) => ys.map((y) => [x, y])),
      ...ptsLeft,
      ...ptsMidLeft,
      ...ptsUpper,
      ...ptsRight,
    ];
    const lineOf = (c: number[]) => [
      [xRange[0], c[0] + c[1] * xRange[0]],
      [xRange[1], c[0] + c[1] * xRange[1]],
    ];
    const axisCommon = {
      type: "value",
      axisLine: { show: false, onZero: false },
      splitLine: { show: false },
      nameLocation: "middle",
      nameTextStyle: { fontSize: 30, color: "#000", fontFamily: FONT },
    };
    const legendGraphic = legendItems.flatMap((it, i) => {
      const y = 195 + i * 38;
      return [
        { type: "line", shape: { x1: 1039, y1: y, x2: 1099, y2: y }, style: { stroke: it.color, lineWidth: it.width }, silent: true, z: 10 },
        { type: "text", x: 1128, y, style: { text: it.name, fontSize: 30, fill: "#000", fontFamily: FONT, verticalAlign: "middle", align: "left" }, silent: true, z: 10 },
      ];
    });
    chart.setOption({
      animation: false,
      backgroundColor: "#ffffff",
      textStyle: { fontFamily: FONT },
      grid: {
        left: 157,
        right: 81,
        top: 158,
        bottom: 197,
        show: true,
        borderColor: "#000",
        borderWidth: 2,
        backgroundColor: "transparent",
        containLabel: false,
        outerBoundsMode: "none",
      },
      xAxis: {
        ...axisCommon,
        min: xRange[0],
        max: xRange[1],
        name: "ensmean",
        nameGap: 122,
        axisTick: { show: true, inside: false, length: 19, lineStyle: { color: "#000", width: 2 }, customValues: xTicks },
        axisLabel: { customValues: xTicks, fontSize: 30, color: "#000", margin: 43, fontFamily: FONT },
      },
      yAxis: {
        ...axisCommon,
        min: yRange[0],
        max: yRange[1],
        name: "rain",
        nameGap: 117,
        axisTick: { show: true, inside: false, length: 19, lineStyle: { color: "#000", width: 2 }, customValues: yTicks },
        axisLabel: { customValues: yTicks, fontSize: 30, color: "#000", margin: 42, rotate: 90, fontFamily: FONT },
      },
      graphic: legendGraphic,
      series: [
        {
          type: "scatter",
          data: points,
          symbol: "circle",
          symbolSize: 14,
          silent: true,
          progressive: 0,
          itemStyle: { color: "rgba(0,0,0,0.22)", borderColor: "rgba(0,0,0,0.3)", borderWidth: 1.3 },
          z: 2,
        },
        {
          name: "m_lm",
          type: "line",
          data: lineOf(lmCoef),
          symbol: "none",
          clip: true,
          lineStyle: { color: "#61D04F", width: 4.5 },
          itemStyle: { color: "#61D04F" },
          z: 3,
        },
        {
          name: "m_hclog",
          type: "line",
          data: lineOf(hclogCoef),
          symbol: "none",
          clip: true,
          lineStyle: { color: "#2297E6", width: 4.5 },
          itemStyle: { color: "#2297E6" },
          z: 3,
        },
      ],
    });
    return () => chart.dispose();
  }, []);
  return (
    <div
      ref={ref}
      style={{ position: "fixed", left: 0, top: 0, width: 1344, height: 960, background: "#fff" }}
    />
  );
}
